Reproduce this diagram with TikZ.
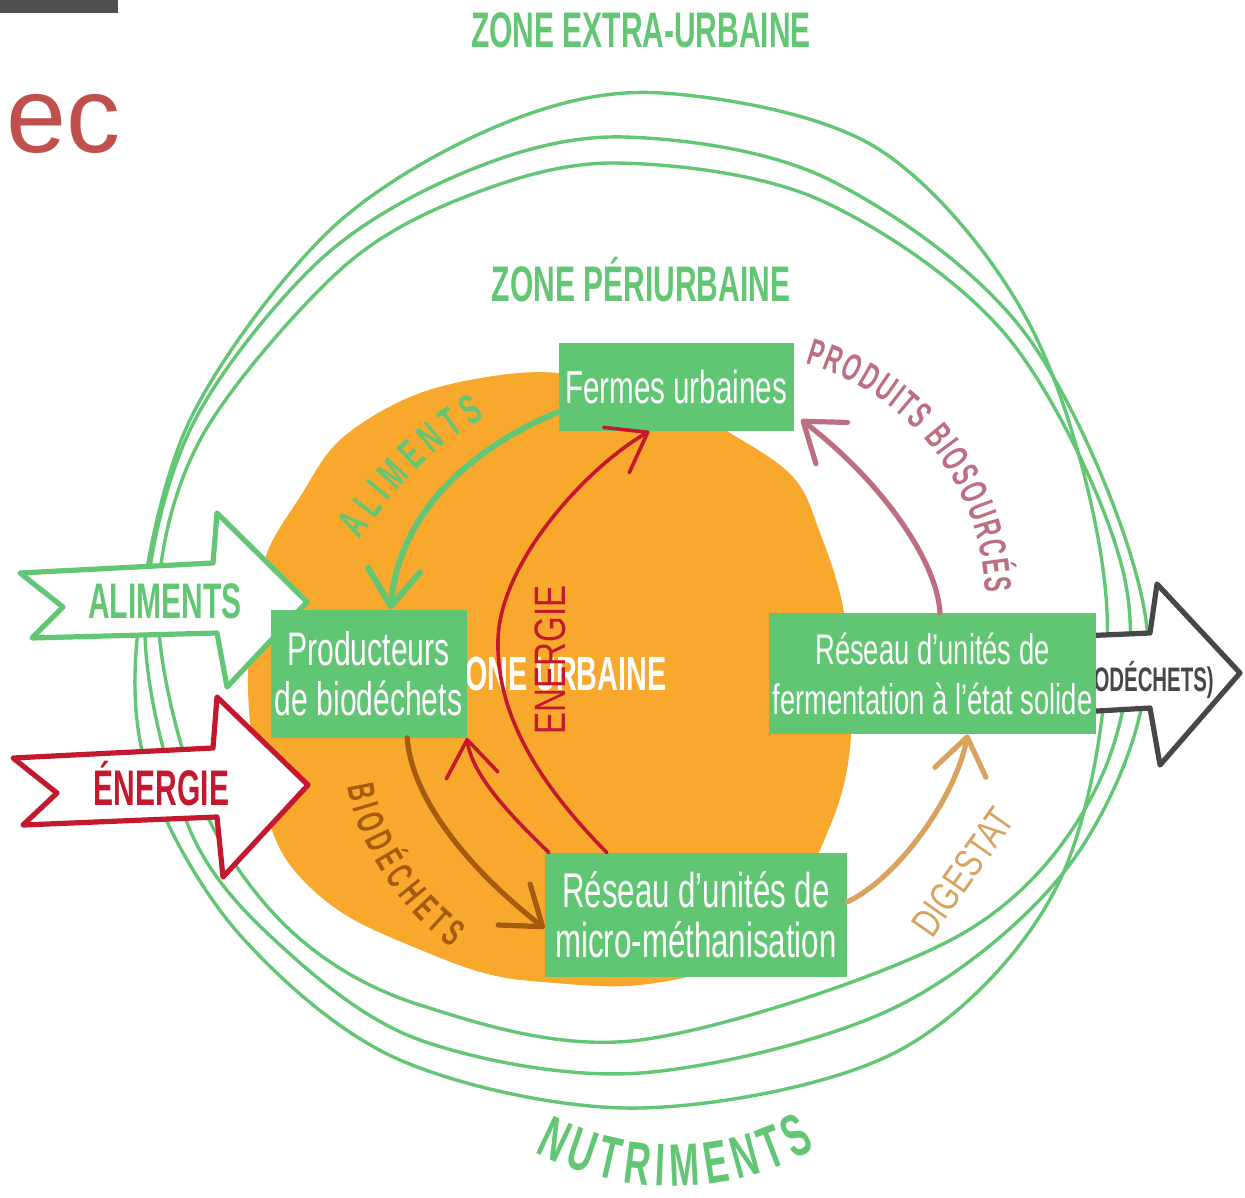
\documentclass[tikz,border=0pt]{standalone}
\usepackage{fontspec}
\setmainfont{Liberation Sans}
\newfontfamily\unitfont[FakeStretch=0.64]{Liberation Sans}
\newfontfamily\zonefont[FakeStretch=0.6]{Liberation Sans}
\newfontfamily\handfont[FakeStretch=0.75]{Liberation Sans}
\usetikzlibrary{arrows.meta,decorations.text}

\definecolor{zonegreen}{HTML}{62C674}
\definecolor{unitgreen}{HTML}{61C673}
\definecolor{cityorange}{HTML}{F8A82C}
\definecolor{energyred}{HTML}{C4182E}
\definecolor{productpink}{HTML}{BE6E82}
\definecolor{wastebrown}{HTML}{A65B0E}
\definecolor{digestan}{HTML}{D8A25F}
\definecolor{outgray}{HTML}{474747}
\definecolor{titlered}{HTML}{C0504D}
\definecolor{bargray}{HTML}{4F4F4F}

\begin{document}
\begin{tikzpicture}[x=0.5pt,y=-0.5pt]
\tikzstyle{unit}=[rectangle,fill=unitgreen,text=white,inner sep=0pt,align=center]
\tikzstyle{zone}=[anchor=base,text=zonegreen,font=\zonefont\bfseries\fontsize{25}{25}\selectfont]
\tikzstyle{ring}=[draw=zonegreen,line width=1.7pt]
\tikzstyle{bigarrow}=[fill=white,line width=2.6pt,line join=round]
\tikzstyle{flow}=[line cap=round,line join=round,-{Straight Barb[length=18pt,width=26pt,round]}]

\useasboundingbox (0,0) rectangle (1245,1197);

    % slide leftovers
    \fill[bargray] (0,0) rectangle (118,13);
    \node[anchor=base west,inner sep=0pt,text=titlered,font=\fontsize{54}{60}\selectfont] (slidetitle) at (6,153) {ec};

    % Zones
    \node[zone] (extra) at (641,48) {ZONE EXTRA-URBAINE};
    \node[zone] (peri) at (641,302) {ZONE PÉRIURBAINE};

    \fill[cityorange] plot[smooth cycle,tension=0.6] coordinates {(300,497) (340,440) (410,397) (487,377) (560,373) (650,390) (730,433) (793,477) (820,533) (843,607) (852,700) (845,780) (820,850) (790,910) (740,960) (640,985) (543,982) (484,973) (421,950) (349,917) (300,877) (273,833) (255,760) (248,687) (253,620) (267,553)};

    \draw[ring] plot[smooth cycle,tension=0.55] coordinates {(662,93) (880,150) (1035,335) (1107,612) (1060,880) (900,1050) (640,1108) (400,1060) (240,935) (150,780) (138,630) (190,420) (330,230) (500,125)};
    \draw[ring] plot[smooth cycle,tension=0.55] coordinates {(624,137) (830,180) (1030,340) (1147,629) (1080,850) (900,1005) (640,1073) (420,1040) (280,945) (190,830) (145,630) (190,430) (320,260) (470,170)};
    \draw[ring] plot[smooth cycle,tension=0.55] coordinates {(617,163) (820,200) (1010,340) (1125,580) (1100,780) (960,935) (640,1040) (420,1005) (290,930) (200,800) (158,610) (200,440) (340,270) (470,195)};

    % In and out
    \draw[bigarrow,draw=zonegreen] (20,573) -- (213,563) -- (217,513) -- (307,602) -- (227,687) -- (217,633) -- (32,638) -- (63,607) -- cycle;
    \node[zone] (foodin) at (165,618) {ALIMENTS};
    \draw[bigarrow,draw=energyred] (13,758) -- (213,748) -- (217,697) -- (308,785) -- (223,877) -- (217,817) -- (23,825) -- (57,793) -- cycle;
    \node[zone,text=energyred] (energyin) at (161.5,805) {ÉNERGIE};
    \draw[bigarrow,draw=outgray] (1080,636) -- (1150,633) -- (1157,584) -- (1240,673) -- (1160,765) -- (1150,708) -- (1080,712) -- cycle;
    \node[zone,text=outgray,font=\zonefont\bfseries\fontsize{17}{17}\selectfont] (wasteout) at (1140,691) {(BIODÉCHETS)};

    \node[zone,text=white,font=\zonefont\bfseries\fontsize{24}{24}\selectfont] (urban) at (557,690) {ZONE URBAINE};

    % Flow labels
    \node[text=energyred,font=\handfont\fontsize{22}{22}\selectfont,rotate=90] (energylabel) at (550,660) {ENERGIE};
    \node[text=digestan,font=\handfont\fontsize{20}{20}\selectfont,rotate=55] (digestlabel) at (963,872) {DIGESTAT};
    \path[decorate,decoration={text along path,text align=fit to path,text={|\zonefont\bfseries\fontsize{21}{21}\selectfont\color{zonegreen}|ALIMENTS}}] (360,540) .. controls (392,492) and (432,447) .. (485,418);
    \path[decorate,decoration={text along path,text align=fit to path,text={|\zonefont\bfseries\fontsize{19}{19}\selectfont\color{productpink}|PRODUITS BIOSOURCÉS}}] (740,600) ++(-74.5:245) arc[start angle=-74.5,end angle=-1.8,radius=245];
    \path[decorate,decoration={text along path,text align=fit to path,text={|\zonefont\bfseries\fontsize{19}{19}\selectfont\color{wastebrown}|BIODÉCHETS}}] (348,786) .. controls (356,840) and (394,905) .. (452,948);
    \path[decorate,decoration={text along path,text align=fit to path,text={|\zonefont\bfseries\fontsize{30}{30}\selectfont\color{zonegreen}|NUTRIMENTS}}] (672,890) ++(117.7:296) arc[start angle=117.7,end angle=60.9,radius=296];

    % Units
    \node[unit,minimum width=117.5pt,minimum height=44pt,font=\unitfont\fontsize{23.1}{25}\selectfont] (farm) at (676,387) {Fermes urbaines};
    \node[unit,minimum width=98pt,minimum height=64pt,font=\unitfont\fontsize{23.5}{25}\selectfont] (prod) at (368.5,673.5) {Producteurs\\de biodéchets};
    \node[unit,minimum width=163.5pt,minimum height=60.5pt,font=\unitfont\fontsize{21.4}{25}\selectfont] (solid) at (932.5,673.5) {Réseau d’unités de\\fermentation à l’état solide};
    \node[unit,minimum width=151pt,minimum height=62pt,font=\unitfont\fontsize{24.4}{25}\selectfont] (meth) at (696,915) {Réseau d’unités de\\micro-méthanisation};

    %aliments
    \draw[flow,zonegreen,line width=3pt] (farm.192) .. controls (490,440) and (400,500) .. (prod.71);
    %energie
    \draw[flow,energyred,line width=1.8pt] (meth.145) .. controls (546,791) and (496,720) .. (498,640) .. controls (500,560) and (590,465) .. (farm.239);
    \draw[flow,energyred,line width=1.8pt] (meth.157) .. controls (510,815) and (472,775) .. (prod.south east);
    %biodechets
    \draw[flow,wastebrown,line width=2.6pt] (prod.-59) .. controls (412,800) and (470,870) .. (meth.185);
    %produits biosources
    \draw[flow,productpink,line width=2.6pt,shorten >=4.5pt] (solid.83) .. controls (937,560) and (880,480) .. (farm.-13);
    %digestat
    \draw[flow,digestan,line width=2.6pt] (meth.5) .. controls (895,880) and (955,800) .. (solid.-60);

\end{tikzpicture}
\end{document}
